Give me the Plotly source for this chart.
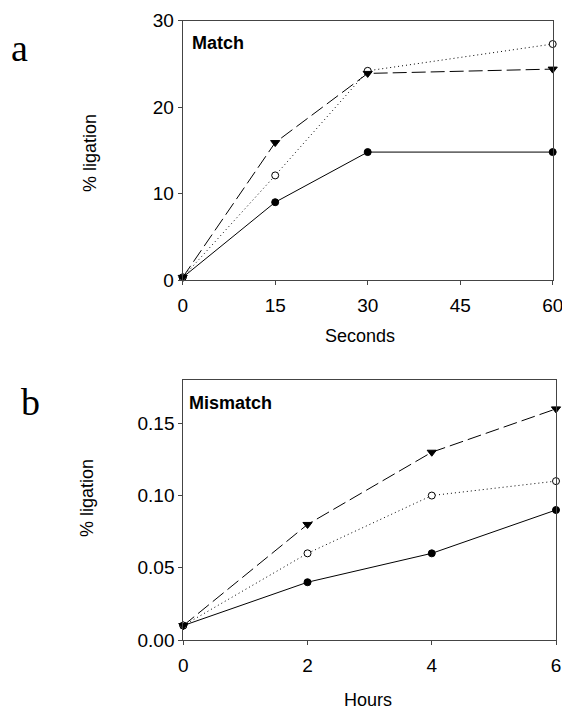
import plotly.graph_objects as go

W, H = 562, 709

# Panel a: Match (seconds)
sec = [0, 15, 30, 60]
a_filled = [0.3, 9.0, 14.8, 14.8]
a_open = [0.3, 12.1, 24.2, 27.3]
a_tri = [0.3, 15.9, 23.9, 24.4]
a_xticks = [0, 15, 30, 45, 60]
a_yticks = [0, 10, 20, 30]

# Panel b: Mismatch (hours)
hours = [0, 2, 4, 6]
b_filled = [0.01, 0.04, 0.06, 0.09]
b_open = [0.01, 0.06, 0.10, 0.11]
b_tri = [0.01, 0.08, 0.13, 0.16]
b_xticks = [0, 2, 4, 6]
b_yticks = [0.00, 0.05, 0.10, 0.15]

FONT = "Liberation Sans"

fig = go.Figure()

def add_series(x, y, xa, ya, dash, symbol, fill, size):
    fig.add_trace(go.Scatter(
        x=x, y=y, xaxis=xa, yaxis=ya, mode="lines+markers",
        line=dict(color="black", width=1, dash=dash),
        marker=dict(symbol=symbol, size=size, color=fill,
                    line=dict(color="black", width=1)),
        cliponaxis=False, showlegend=False, hoverinfo="skip"))

add_series(sec, a_filled, "x", "y", "solid", "circle", "black", 7)
add_series(sec, a_open, "x", "y", "1px,3px", "circle", "white", 7)
add_series(sec, a_tri, "x", "y", "14px,5px", "triangle-down", "black", 8)
add_series(hours, b_filled, "x2", "y2", "solid", "circle", "black", 7)
add_series(hours, b_open, "x2", "y2", "1px,3px", "circle", "white", 7)
add_series(hours, b_tri, "x2", "y2", "14px,5px", "triangle-down", "black", 8)

def px(x):
    return x / W

def py(y):
    return 1 - y / H

axis_common = dict(showline=True, linecolor="#444", linewidth=1, mirror=True,
                   ticks="outside", ticklen=4, tickcolor="#444", showgrid=False,
                   zeroline=False, automargin=False, ticklabeloverflow="allow",
                   tickfont=dict(family=FONT, size=19, color="black"))

fig.update_layout(
    width=W, height=H, margin=dict(l=0, r=0, t=0, b=0),
    paper_bgcolor="white", plot_bgcolor="white",
    xaxis=dict(domain=[px(182.7), px(552.7)], range=[0, 60], anchor="y",
               tickvals=a_xticks, ticklabelstandoff=4, **axis_common),
    yaxis=dict(domain=[py(280), py(20.7)], range=[0, 30], anchor="x",
               tickvals=a_yticks, **axis_common),
    xaxis2=dict(domain=[px(183.3), px(556)], range=[0, 6], anchor="y2",
                tickvals=b_xticks, ticklabelstandoff=4, **axis_common),
    yaxis2=dict(domain=[py(640), py(380)], range=[0, 0.18], anchor="x2",
                tickvals=b_yticks, tickformat=".2f", **axis_common),
)

def ann(text, x, y, size, family=FONT, angle=0, bold=False, xanchor="center"):
    fig.add_annotation(
        text=f"<b>{text}</b>" if bold else text,
        xref="paper", yref="paper", x=px(x), y=py(y),
        xanchor=xanchor, yanchor="middle", showarrow=False, textangle=angle,
        font=dict(family=family, size=size, color="black"))

ann("a", 19.5, 48, 38, family="Liberation Serif")
ann("b", 30, 402, 38, family="Liberation Serif")
ann("Match", 189.5, 43, 18, bold=True, xanchor="left")
ann("Mismatch", 187, 403, 18, bold=True, xanchor="left")
ann("% ligation", 90, 153, 18, angle=-90)
ann("% ligation", 87, 498, 18, angle=-90)
ann("Seconds", 360, 336, 18)
ann("Hours", 367.5, 700, 18)

fig.write_html("out.html", config={"displayModeBar": False},
               post_script="document.body.style.margin='0';document.body.style.overflow='hidden';")
